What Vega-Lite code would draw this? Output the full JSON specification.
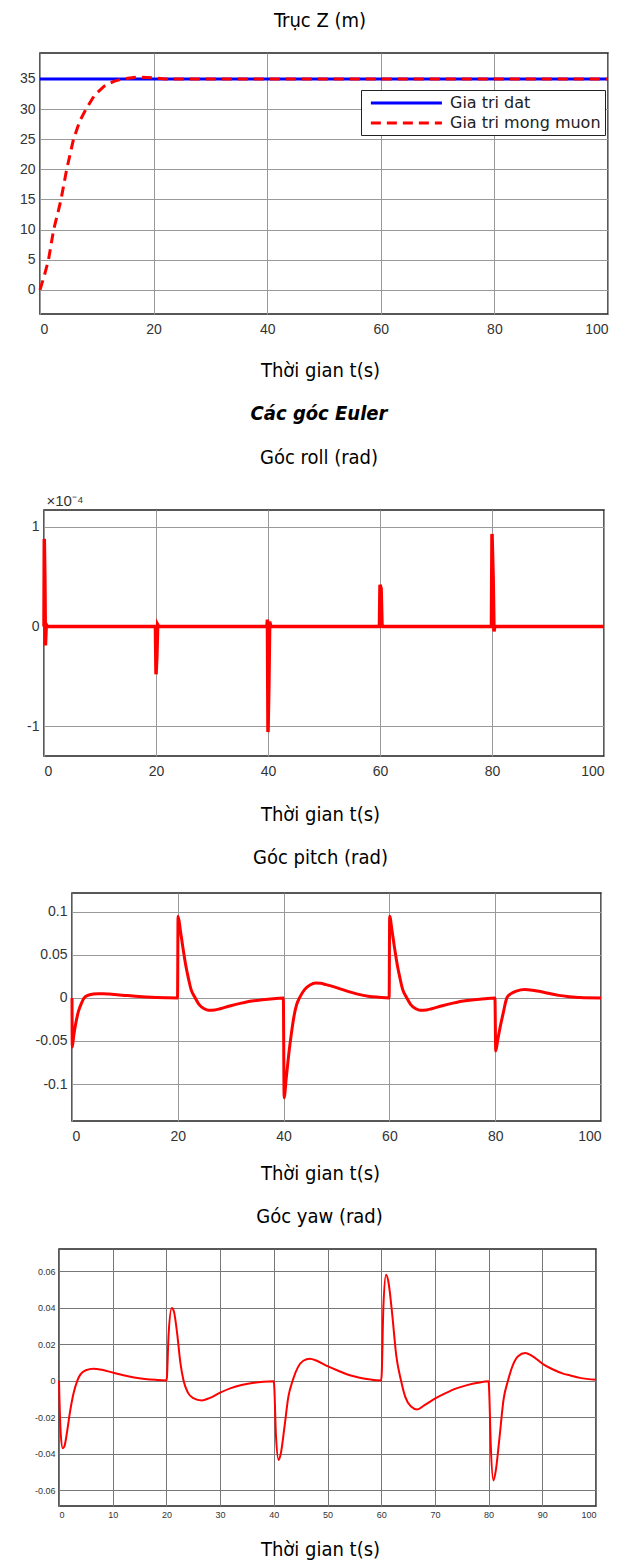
{
  "$schema": "https://vega.github.io/schema/vega-lite/v6.json",
  "padding": {"left": 0, "top": 10, "right": 0, "bottom": 0},
  "background": "white",
  "spacing": 22,
  "config": {
    "view": {"stroke": "#222", "strokeWidth": 1.5},
    "axis": {"labelFont": "Liberation Sans", "labelColor": "#333", "labelFontSize": 14, "ticks": false, "domain": false, "grid": true, "gridColor": "#999", "gridOpacity": 1, "titleFont": "Liberation Sans Narrow, DejaVu Sans Condensed, sans-serif", "titleFontWeight": "normal", "titleFontSize": 20, "titleColor": "#000"},
    "title": {"font": "Liberation Sans Narrow, DejaVu Sans Condensed, sans-serif", "fontSize": 20, "fontWeight": "normal", "color": "#000", "subtitleFont": "Liberation Sans Narrow, DejaVu Sans Condensed, sans-serif", "subtitleFontSize": 20, "subtitleColor": "#000", "anchor": "middle"}
  },
  "datasets": {
    "empty": [],
    "z": [
      {"t": 0, "z": 35, "series": "Gia tri dat"},
      {"t": 100, "z": 35, "series": "Gia tri dat"},
      {"t": 0, "z": 0, "series": "Gia tri mong muon"},
      {"t": 0.8, "z": 2.5, "series": "Gia tri mong muon"},
      {"t": 1.5, "z": 5, "series": "Gia tri mong muon"},
      {"t": 2.4, "z": 10, "series": "Gia tri mong muon"},
      {"t": 3.2, "z": 13, "series": "Gia tri mong muon"},
      {"t": 3.7, "z": 15, "series": "Gia tri mong muon"},
      {"t": 4.7, "z": 20, "series": "Gia tri mong muon"},
      {"t": 5.9, "z": 25, "series": "Gia tri mong muon"},
      {"t": 7, "z": 28, "series": "Gia tri mong muon"},
      {"t": 8.1, "z": 30, "series": "Gia tri mong muon"},
      {"t": 9.6, "z": 32.3, "series": "Gia tri mong muon"},
      {"t": 11.3, "z": 33.8, "series": "Gia tri mong muon"},
      {"t": 13, "z": 34.6, "series": "Gia tri mong muon"},
      {"t": 14.6, "z": 35, "series": "Gia tri mong muon"},
      {"t": 17, "z": 35.3, "series": "Gia tri mong muon"},
      {"t": 20, "z": 35.2, "series": "Gia tri mong muon"},
      {"t": 22, "z": 35, "series": "Gia tri mong muon"},
      {"t": 100, "z": 35, "series": "Gia tri mong muon"}
    ],
    "roll": [
      {"t": 0, "v": 0}, {"t": 0.05, "v": 0.88}, {"t": 0.15, "v": 0.5}, {"t": 0.25, "v": -0.19}, {"t": 0.4, "v": 0.02}, {"t": 0.6, "v": 0},
      {"t": 19.9, "v": 0}, {"t": 20.0, "v": -0.48}, {"t": 20.15, "v": -0.3}, {"t": 20.3, "v": 0.02}, {"t": 20.5, "v": 0},
      {"t": 39.8, "v": 0}, {"t": 39.9, "v": 0.07}, {"t": 40.0, "v": -1.06}, {"t": 40.15, "v": -0.6}, {"t": 40.3, "v": 0.05}, {"t": 40.5, "v": 0},
      {"t": 59.9, "v": 0}, {"t": 60.0, "v": 0.42}, {"t": 60.2, "v": 0.38}, {"t": 60.35, "v": 0.02}, {"t": 60.5, "v": 0},
      {"t": 79.9, "v": 0}, {"t": 80.0, "v": 0.93}, {"t": 80.2, "v": 0.5}, {"t": 80.35, "v": -0.05}, {"t": 80.5, "v": 0},
      {"t": 100, "v": 0}
    ],
    "pitch": [
      {"t": 0, "v": 0}, {"t": 0.05, "v": -0.057}, {"t": 0.3, "v": -0.045}, {"t": 0.7, "v": -0.03}, {"t": 1.2, "v": -0.016}, {"t": 1.8, "v": -0.006}, {"t": 2.3, "v": 0}, {"t": 3, "v": 0.003}, {"t": 4, "v": 0.0045}, {"t": 5, "v": 0.005}, {"t": 6, "v": 0.005}, {"t": 7, "v": 0.0045}, {"t": 8, "v": 0.004}, {"t": 10, "v": 0.003}, {"t": 12, "v": 0.002}, {"t": 14, "v": 0.0012}, {"t": 16, "v": 0.0006}, {"t": 18, "v": 0.0002}, {"t": 19.95, "v": 0},
      {"t": 20.05, "v": 0.095}, {"t": 20.5, "v": 0.078}, {"t": 21, "v": 0.057}, {"t": 21.5, "v": 0.038}, {"t": 22, "v": 0.023}, {"t": 22.5, "v": 0.01}, {"t": 23.3, "v": 0}, {"t": 24, "v": -0.0075}, {"t": 25, "v": -0.0125}, {"t": 25.8, "v": -0.0144}, {"t": 27, "v": -0.014}, {"t": 28, "v": -0.0125}, {"t": 30, "v": -0.009}, {"t": 32, "v": -0.006}, {"t": 34, "v": -0.0035}, {"t": 36, "v": -0.002}, {"t": 38, "v": -0.0008}, {"t": 39.95, "v": 0},
      {"t": 40.1, "v": -0.116}, {"t": 40.5, "v": -0.093}, {"t": 41, "v": -0.064}, {"t": 41.5, "v": -0.04}, {"t": 42, "v": -0.02}, {"t": 42.5, "v": -0.007}, {"t": 43, "v": 0}, {"t": 44, "v": 0.01}, {"t": 45, "v": 0.015}, {"t": 46, "v": 0.0174}, {"t": 47, "v": 0.017}, {"t": 48, "v": 0.0155}, {"t": 50, "v": 0.012}, {"t": 52, "v": 0.008}, {"t": 54, "v": 0.0045}, {"t": 56, "v": 0.002}, {"t": 58, "v": 0.0008}, {"t": 59.95, "v": 0},
      {"t": 60.05, "v": 0.095}, {"t": 60.5, "v": 0.078}, {"t": 61, "v": 0.057}, {"t": 61.5, "v": 0.038}, {"t": 62, "v": 0.023}, {"t": 62.5, "v": 0.01}, {"t": 63.3, "v": 0}, {"t": 64, "v": -0.0075}, {"t": 65, "v": -0.0125}, {"t": 65.8, "v": -0.0144}, {"t": 67, "v": -0.014}, {"t": 68, "v": -0.0125}, {"t": 70, "v": -0.009}, {"t": 72, "v": -0.006}, {"t": 74, "v": -0.0035}, {"t": 76, "v": -0.002}, {"t": 78, "v": -0.0008}, {"t": 79.95, "v": 0},
      {"t": 80.1, "v": -0.0616}, {"t": 80.5, "v": -0.048}, {"t": 81, "v": -0.032}, {"t": 81.5, "v": -0.018}, {"t": 82.2, "v": 0}, {"t": 83, "v": 0.005}, {"t": 84, "v": 0.008}, {"t": 85.6, "v": 0.0097}, {"t": 87, "v": 0.009}, {"t": 88, "v": 0.008}, {"t": 90, "v": 0.0055}, {"t": 92, "v": 0.003}, {"t": 94, "v": 0.0015}, {"t": 96, "v": 0.0005}, {"t": 100, "v": 0}
    ],
    "yaw": [
      {"t": 0, "v": 0}, {"t": 0.3, "v": -0.028}, {"t": 0.7, "v": -0.037}, {"t": 1.0, "v": -0.036}, {"t": 1.5, "v": -0.028}, {"t": 2, "v": -0.018}, {"t": 2.7, "v": -0.007}, {"t": 3.4, "v": 0}, {"t": 4, "v": 0.0035}, {"t": 5, "v": 0.0058}, {"t": 6.4, "v": 0.0066}, {"t": 8, "v": 0.006}, {"t": 10, "v": 0.0045}, {"t": 12, "v": 0.003}, {"t": 14, "v": 0.0018}, {"t": 16, "v": 0.001}, {"t": 18, "v": 0.0005}, {"t": 20, "v": 0.0002},
      {"t": 20.1, "v": 0.002}, {"t": 20.4, "v": 0.025}, {"t": 21, "v": 0.0399}, {"t": 21.4, "v": 0.038}, {"t": 22, "v": 0.026}, {"t": 22.6, "v": 0.01}, {"t": 23.2, "v": 0}, {"t": 24, "v": -0.0065}, {"t": 25, "v": -0.0095}, {"t": 26.6, "v": -0.0108}, {"t": 28, "v": -0.0095}, {"t": 30, "v": -0.0065}, {"t": 32, "v": -0.004}, {"t": 34, "v": -0.0023}, {"t": 36, "v": -0.0012}, {"t": 38, "v": -0.0005}, {"t": 40, "v": -0.0002},
      {"t": 40.1, "v": -0.004}, {"t": 40.4, "v": -0.03}, {"t": 40.9, "v": -0.0434}, {"t": 41.3, "v": -0.04}, {"t": 42, "v": -0.025}, {"t": 42.7, "v": -0.009}, {"t": 43.5, "v": 0}, {"t": 44.5, "v": 0.0075}, {"t": 45.5, "v": 0.011}, {"t": 46.7, "v": 0.0121}, {"t": 48, "v": 0.011}, {"t": 50, "v": 0.008}, {"t": 52, "v": 0.0055}, {"t": 54, "v": 0.0032}, {"t": 56, "v": 0.0017}, {"t": 58, "v": 0.0007}, {"t": 60, "v": 0.0002},
      {"t": 60.1, "v": 0.004}, {"t": 60.4, "v": 0.04}, {"t": 60.9, "v": 0.0582}, {"t": 61.3, "v": 0.055}, {"t": 62, "v": 0.038}, {"t": 62.8, "v": 0.014}, {"t": 63.7, "v": 0}, {"t": 64.5, "v": -0.009}, {"t": 65.5, "v": -0.014}, {"t": 66.7, "v": -0.0157}, {"t": 68, "v": -0.0135}, {"t": 70, "v": -0.0098}, {"t": 72, "v": -0.0068}, {"t": 74, "v": -0.0042}, {"t": 76, "v": -0.0024}, {"t": 78, "v": -0.0011}, {"t": 80, "v": -0.0003},
      {"t": 80.1, "v": -0.005}, {"t": 80.4, "v": -0.035}, {"t": 80.9, "v": -0.0547}, {"t": 81.3, "v": -0.05}, {"t": 82, "v": -0.032}, {"t": 82.8, "v": -0.01}, {"t": 83.6, "v": 0}, {"t": 84.5, "v": 0.0085}, {"t": 85.5, "v": 0.0135}, {"t": 86.8, "v": 0.0152}, {"t": 88, "v": 0.0138}, {"t": 90.2, "v": 0.009}, {"t": 92, "v": 0.0062}, {"t": 94, "v": 0.0038}, {"t": 95.1, "v": 0.003}, {"t": 97, "v": 0.0016}, {"t": 100, "v": 0.0005}
    ]
  },
  "vconcat": [
    {"spacing": 0, "hconcat": [
    {"width": 1, "height": 1, "data": {"name": "empty"}, "mark": "point", "view": {"stroke": null}},
    {
      "width": 568,
      "height": 261,
      "title": {"text": "Trục Z (m)", "offset": 22, "dx": -4},
      "data": {"name": "z"},
      "mark": {"type": "line", "strokeWidth": 3},
      "encoding": {
        "x": {"field": "t", "type": "quantitative", "scale": {"domain": [0, 100], "nice": false}, "axis": {"values": [0, 20, 40, 60, 80, 100], "title": "Thời gian t(s)", "titleX": 280, "labelPadding": 8, "titlePadding": 24}},
        "y": {"field": "z", "type": "quantitative", "scale": {"domain": [-4, 39.3], "nice": false, "zero": false}, "axis": {"values": [0, 5, 10, 15, 20, 25, 30, 35], "title": null, "labelPadding": 5, "minExtent": 38, "maxExtent": 38}},
        "color": {"field": "series", "type": "nominal", "scale": {"domain": ["Gia tri dat", "Gia tri mong muon"], "range": ["#0000ff", "#ff0000"]},
          "legend": {"title": null, "orient": "none", "legendX": 361, "legendY": 37, "strokeColor": "#222", "fillColor": "white", "padding": 4, "symbolType": "M-0.44,0H9.56", "symbolSize": 202, "symbolStrokeWidth": 3, "labelFont": "DejaVu Sans", "labelFontSize": 16, "labelColor": "#222", "rowPadding": 3, "labelOffset": 67}},
        "strokeDash": {"field": "series", "type": "nominal", "scale": {"domain": ["Gia tri dat", "Gia tri mong muon"], "range": [[1, 0], [10, 6]]},
          "legend": {"title": null, "orient": "none", "legendX": 361, "legendY": 37, "strokeColor": "#222", "fillColor": "white", "padding": 4, "symbolType": "M-0.44,0H9.56", "symbolSize": 202, "symbolStrokeWidth": 3, "labelFont": "DejaVu Sans", "labelFontSize": 16, "labelColor": "#222", "rowPadding": 3, "labelOffset": 67}}
      }
    }]},
    {"spacing": 0, "hconcat": [
    {"width": 1, "height": 1, "data": {"name": "empty"}, "mark": "point", "view": {"stroke": null}},
    {
      "width": 560,
      "height": 246,
      "title": {"text": "Các góc Euler", "subtitle": "Góc roll (rad)", "fontStyle": "italic", "fontWeight": "bold", "subtitleFontStyle": "normal", "subtitlePadding": 24, "offset": 25, "dx": -5},
      "data": {"name": "roll"},
      "mark": {"type": "line", "color": "#ff0000", "strokeWidth": 3.5},
      "encoding": {
        "x": {"field": "t", "type": "quantitative", "scale": {"domain": [0, 100], "nice": false}, "axis": {"values": [0, 20, 40, 60, 80, 100], "title": "Thời gian t(s)", "titleX": 276, "labelPadding": 8, "titlePadding": 26}},
        "y": {"field": "v", "type": "quantitative", "scale": {"domain": [-1.3, 1.17], "nice": false, "zero": false}, "axis": {"values": [-1, 0, 1], "labelExpr": "replace(format(datum.value, '~g'), '−', '-')", "title": "×10⁻⁴", "titleAngle": 0, "titleX": 2, "titleY": -10, "titleAlign": "left", "titleBaseline": "middle", "titleFont": "Liberation Sans", "titleFontSize": 15, "titleColor": "#333", "labelPadding": 5, "minExtent": 41.5, "maxExtent": 41.5}}
      }
    }]},
    {"spacing": 0, "hconcat": [
    {"width": 26, "height": 1, "data": {"name": "empty"}, "mark": "point", "view": {"stroke": null}},
    {
      "width": 529,
      "height": 228,
      "title": {"text": "Góc pitch (rad)", "offset": 25, "dx": -16},
      "data": {"name": "pitch"},
      "mark": {"type": "line", "color": "#ff0000", "strokeWidth": 3, "interpolate": "monotone"},
      "encoding": {
        "x": {"field": "t", "type": "quantitative", "scale": {"domain": [0, 100], "nice": false}, "axis": {"values": [0, 20, 40, 60, 80, 100], "title": "Thời gian t(s)", "titleX": 248, "labelPadding": 8, "titlePadding": 20}},
        "y": {"field": "v", "type": "quantitative", "scale": {"domain": [-0.143, 0.122], "nice": false, "zero": false}, "axis": {"values": [-0.1, -0.05, 0, 0.05, 0.1], "labelExpr": "replace(format(datum.value, '~g'), '−', '-')", "title": null, "labelPadding": 5, "minExtent": 45, "maxExtent": 45}}
      }
    }]},
    {"spacing": 0, "hconcat": [
    {"width": 26, "height": 1, "data": {"name": "empty"}, "mark": "point", "view": {"stroke": null}},
    {
      "width": 537,
      "height": 257,
      "title": {"text": "Góc yaw (rad)", "offset": 22, "dx": -8},
      "data": {"name": "yaw"},
      "mark": {"type": "line", "color": "#ff0000", "strokeWidth": 2, "interpolate": "monotone"},
      "encoding": {
        "x": {"field": "t", "type": "quantitative", "scale": {"domain": [0, 100], "nice": false}, "axis": {"values": [0, 10, 20, 30, 40, 50, 60, 70, 80, 90, 100], "title": "Thời gian t(s)", "titleX": 261, "labelFontSize": 9, "labelPadding": 4, "titlePadding": 20, "gridColor": "#777"}},
        "y": {"field": "v", "type": "quantitative", "scale": {"domain": [-0.0687, 0.0723], "nice": false, "zero": false}, "axis": {"values": [-0.06, -0.04, -0.02, 0, 0.02, 0.04, 0.06], "labelExpr": "replace(format(datum.value, '~g'), '−', '-')", "title": null, "labelFontSize": 9, "labelPadding": 4, "minExtent": 32, "maxExtent": 32, "gridColor": "#777"}}
      }
    }]}
  ]
}
